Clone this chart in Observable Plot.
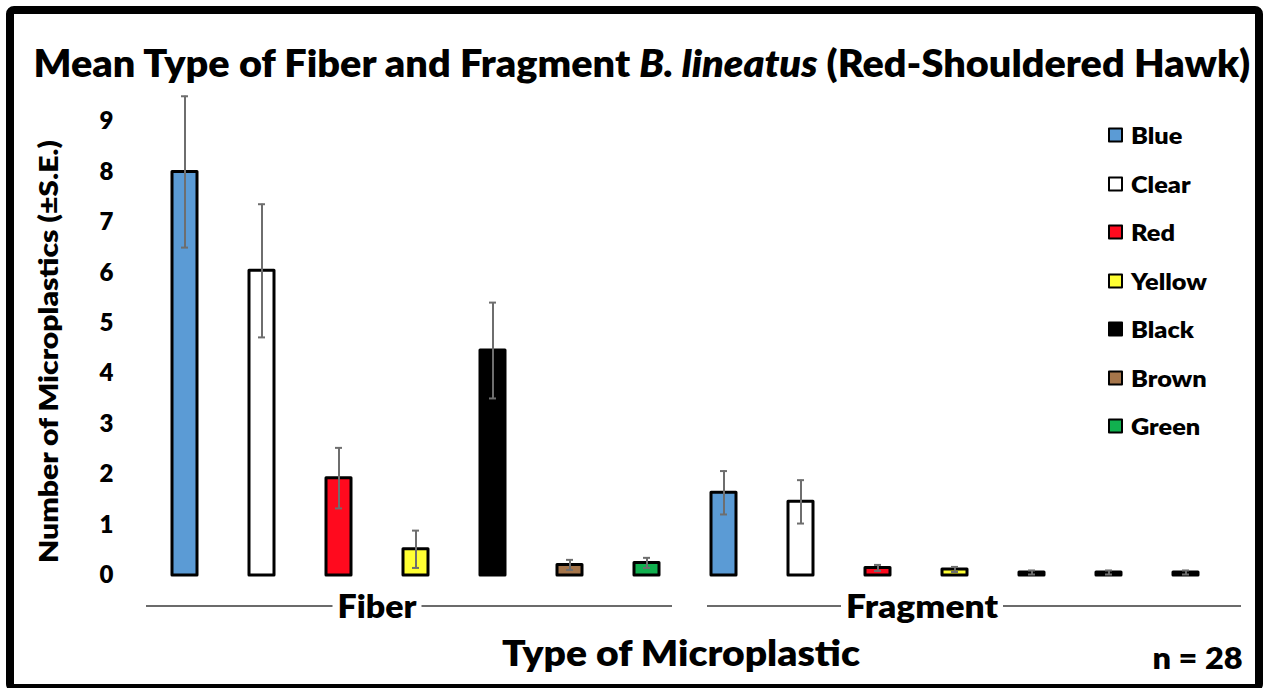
<!DOCTYPE html>
<html>
<head>
<meta charset="utf-8">
<script src="https://cdn.jsdelivr.net/npm/d3@7"></script>
<script src="https://cdn.jsdelivr.net/npm/@observablehq/plot@0.6"></script>
<style>
  html, body { margin: 0; padding: 0; background: #fff; overflow: hidden; }
  #wrap { position: relative; width: 1267px; height: 688px; overflow: hidden; font-family: Lato, "Open Sans", sans-serif; font-weight: 800; color: #000; }
  #chart { position: absolute; left: 0; top: 0; }
  .frame { position: absolute; left: 6px; top: 6px; width: 1241px; height: 670px; border: 8px solid #000; border-radius: 8px; pointer-events: none; }
  .abs { position: absolute; white-space: nowrap; line-height: 1; }
  #title { font-size: 37px; }
  #ylabel { font-size: 27px; }
  #xlabel { font-size: 36px; }
  #n { font-size: 30px; }
  .leg { position: absolute; left: 1108px; display: flex; align-items: center; font-size: 22px; transform: translateY(-50%); }
  .leg .sw { width: 11px; height: 11px; border: 2px solid #000; border-radius: 1px; margin-right: 8px; flex: none; }
  .leg span { display: inline-block; transform-origin: left center; transform: scaleX(1.15); }
</style>
</head>
<body>
<div id="wrap">
  <div id="chart"></div>
  <div class="abs" id="title">Mean Type of Fiber and Fragment <i>B. lineatus</i> (Red-Shouldered Hawk)</div>
  <div class="abs" id="ylabel">Number of Microplastics (±S.E.)</div>
  <div class="abs" id="xlabel">Type of Microplastic</div>
  <div class="abs" id="n">n = 28</div>
  <div id="legend"></div>
  <div class="frame"></div>
</div>
<script>
// ---- data ----
const types = ["Fiber", "Fragment"];
const colorNames = ["Blue", "Clear", "Red", "Yellow", "Black", "Brown", "Green"];
const colorFills = ["#5b9bd5", "#ffffff", "#ff0a1e", "#ffff33", "#000000", "#a5754a", "#11b04f"];
const fiberMeans = [8.0, 6.04, 1.93, 0.52, 4.46, 0.21, 0.25];
const fiberSE = [1.5, 1.32, 0.6, 0.37, 0.95, 0.1, 0.1];
const fragmentMeans = [1.64, 1.46, 0.15, 0.12, 0.06, 0.06, 0.06];
const fragmentSE = [0.43, 0.43, 0.06, 0.05, 0.04, 0.04, 0.04];
const yTicks = [0, 1, 2, 3, 4, 5, 6, 7, 8, 9];

// ---- table ----
const rows = [];
types.forEach((t, ti) => {
  const means = ti === 0 ? fiberMeans : fragmentMeans;
  const ses = ti === 0 ? fiberSE : fragmentSE;
  colorNames.forEach((c, ci) => {
    rows.push({id: t + "-" + c, type: t, color: c, fill: colorFills[ci], mean: means[ci], se: ses[ci]});
  });
});
const ids = rows.map(d => d.id);

const chart = Plot.plot({
  width: 1267,
  height: 688,
  marginTop: 121,
  marginBottom: 113,
  marginLeft: 142,
  marginRight: 39,
  style: {fontFamily: "Lato, 'Open Sans', sans-serif", fontWeight: 800, fontSize: "24px", color: "#000", background: "transparent", overflow: "visible"},
  x: {domain: ids, axis: null, paddingInner: 0.67, paddingOuter: 0.335},
  y: {domain: [0, 9], axis: null},
  marks: [
    Plot.axisY({ticks: yTicks, tickSize: 0, tickPadding: 29, label: null, fontSize: 24, fontWeight: 800, tickFormat: d => String(d)}),
    Plot.barY(rows, {x: "id", y: "mean", fill: "fill", stroke: "#000", strokeWidth: 3, strokeLinejoin: "round"}),
    Plot.ruleX(rows, {x: "id", y1: d => d.mean - d.se, y2: d => d.mean + d.se, stroke: "#6e6e6e", strokeWidth: 2}),
    Plot.tickY(rows, {x: "id", y: d => d.mean + d.se, stroke: "#6e6e6e", strokeWidth: 2, insetLeft: 9, insetRight: 9}),
    Plot.tickY(rows, {x: "id", y: d => d.mean - d.se, stroke: "#6e6e6e", strokeWidth: 2, insetLeft: 9, insetRight: 9})
  ]
});
document.getElementById("chart").appendChild(chart);

// group labels and bracket lines placed from the x scale
const sx = chart.scale("x");
const bw = sx.bandwidth;
const step = sx.step;
const c = i => sx.apply(ids[i]) + bw / 2;
const svg = d3.select(chart);
const yLine = 606;
const g = svg.append("g");
const groups = [
  {label: types[0], cx: (c(2) + c(3)) / 2, x0: c(0) - step / 2, x1: c(6) + step / 2 - 13, width: 79},
  {label: types[1], cx: (c(9) + c(10)) / 2 + 6, x0: c(7) - step / 2 + 22, x1: c(13) + step / 2 + 17, width: 152}
];
groups.forEach(gr => {
  const half = gr.width / 2 + 5;
  g.append("line").attr("x1", gr.x0).attr("x2", gr.cx - half).attr("y1", yLine).attr("y2", yLine).attr("stroke", "#3a3a3a").attr("stroke-width", 1.6);
  g.append("line").attr("x1", gr.cx + half).attr("x2", gr.x1).attr("y1", yLine).attr("y2", yLine).attr("stroke", "#3a3a3a").attr("stroke-width", 1.6);
  g.append("text").attr("x", gr.cx).attr("y", yLine).attr("dy", "0.36em").attr("text-anchor", "middle")
    .attr("font-size", 32).attr("font-weight", 800).attr("fill", "#000")
    .attr("textLength", gr.width).attr("lengthAdjust", "spacingAndGlyphs").text(gr.label);
});

// legend
const legend = document.getElementById("legend");
const legendY0 = 135, legendStep = 48.5;
colorNames.forEach((name, i) => {
  const item = document.createElement("div");
  item.className = "leg";
  item.style.top = (legendY0 + i * legendStep) + "px";
  item.innerHTML = `<div class="sw" style="background:${colorFills[i]}"></div><span>${name}</span>`;
  legend.appendChild(item);
});

// fit html labels to the reference's widths, centred on given points
function place(id, cx, cy, targetW, rotate) {
  const el = document.getElementById(id);
  const w = el.offsetWidth;
  const h = el.offsetHeight;
  el.style.left = (cx - w / 2) + "px";
  el.style.top = (cy - h / 2) + "px";
  const s = targetW / w;
  el.style.transform = (rotate ? "rotate(-90deg) " : "") + `scaleX(${s})`;
}
place("title", 641.5, 62, 1217, false);
place("ylabel", 47, 351, 423, true);
place("xlabel", 681, 652, 358, false);
place("n", 1197, 657, 90, false);
</script>
</body>
</html>
